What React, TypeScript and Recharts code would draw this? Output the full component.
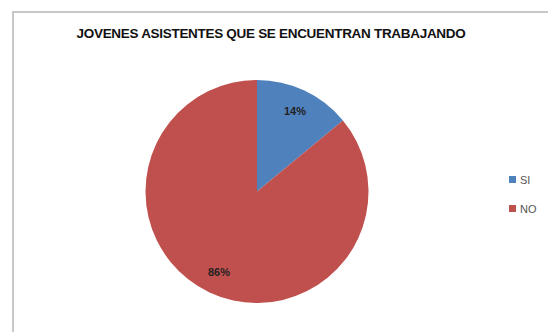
import { PieChart, Pie, Cell, Legend } from "recharts"

const categories = ["SI", "NO"]
const values = [14, 86]
const colors = ["#4F81BD", "#C0504D"]
const title = "JOVENES ASISTENTES QUE SE ENCUENTRAN TRABAJANDO"

const data = categories.map((name, i) => ({ name, value: values[i] }))

const RAD = Math.PI / 180

function renderLabel(props: any) {
  const { cx, cy, midAngle, outerRadius, percent } = props
  const r = outerRadius * 0.8
  const x = cx + r * Math.cos(-midAngle * RAD)
  const y = cy + r * Math.sin(-midAngle * RAD)
  return (
    <text x={x} y={y} textAnchor="middle" dominantBaseline="central" fill="#222" fontSize={11} fontWeight="bold">
      {`${Math.round(percent * 100)}%`}
    </text>
  )
}

// legend keeps the data order (SI first), 29px between rows
function renderLegend() {
  return (
    <div>
      {categories.map((c, i) => (
        <div key={c} style={{ display: "flex", alignItems: "center", height: 29 }}>
          <span style={{ display: "inline-block", width: 7, height: 7, background: colors[i], marginRight: 4 }} />
          <span style={{ color: "#555", fontSize: 11 }}>{c}</span>
        </div>
      ))}
    </div>
  )
}

export default function App() {
  return (
    <div style={{ position: "absolute", left: 0, top: 0, width: 548, height: 332, background: "#fff", overflow: "hidden", fontFamily: "'Liberation Sans', Arial, sans-serif" }}>
      <div style={{ position: "absolute", left: 12, top: 11, width: 560, height: 340, borderLeft: "2px solid #c8c8c8", borderTop: "2px solid #c8c8c8" }} />
      <div style={{ position: "absolute", left: 0, top: 26, width: 542, textAlign: "center", fontSize: 13.5, fontWeight: "bold", color: "#111", letterSpacing: -0.3 }}>
        {title}
      </div>
      <div style={{ position: "absolute", left: 0, top: 0 }}>
        <PieChart width={548} height={332} margin={{ top: 0, right: 0, bottom: 0, left: 0 }}>
          <Pie
            data={data}
            dataKey="value"
            nameKey="name"
            cx={257}
            cy={191.5}
            outerRadius={111.5}
            startAngle={90}
            endAngle={-270}
            stroke="none"
            label={renderLabel}
            labelLine={false}
            isAnimationActive={false}
          >
            {data.map((d, i) => (
              <Cell key={d.name} fill={colors[i]} />
            ))}
          </Pie>
          <Legend
            layout="vertical"
            content={renderLegend}
            wrapperStyle={{ left: 509, top: 165, width: 40 }}
          />
        </PieChart>
      </div>
    </div>
  )
}
